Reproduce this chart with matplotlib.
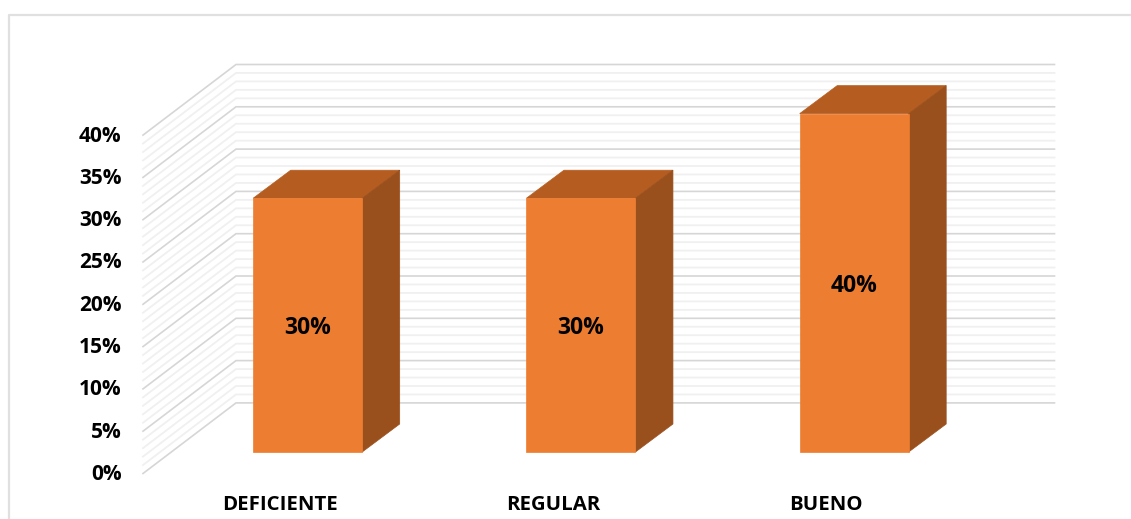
import matplotlib
matplotlib.use("Agg")
import matplotlib.pyplot as plt
from matplotlib.patches import Polygon
from matplotlib.lines import Line2D

categories = ["DEFICIENTE", "REGULAR", "BUENO"]
values = [30, 30, 40]
major_ticks = [0, 5, 10, 15, 20, 25, 30, 35, 40]
minor_ticks = [v for v in range(0, 41) if v % 5 != 0]
tick_labels = ["0%", "5%", "10%", "15%", "20%", "25%", "30%", "35%", "40%"]

W, H = 1131, 519
PX_X = 273.25   # px per category
PX_Y = 8.46     # px per percent
X0, Y0 = 307.7, 473.5  # pixel of category 0 / 0 %

plt.rcParams['font.family'] = ['Open Sans', 'DejaVu Sans']
fig = plt.figure(figsize=(W / 100, H / 100), dpi=100, facecolor='white')
ax = fig.add_axes([0, 0, 1, 1])
ax.set_xlim(-X0 / PX_X, (W - X0) / PX_X)
ax.set_ylim(-(H - Y0) / PX_Y, Y0 / PX_Y)
ax.axis('off')

sx = lambda p: p / PX_X
sy = lambda p: p / PX_Y
wall_left = sx(143 - X0)
wall_back = sx(236 - X0)
wall_right = sx(1054.5 - X0)
wall_rise = sy(70.6)

# frame
fig.add_artist(Line2D([9.2 / W, 9.2 / W, 1], [0, 1 - 14.5 / H, 1 - 14.5 / H], color='#E0E0E0', lw=1.6))

# grid
for v in minor_ticks:
    ax.plot([wall_left, wall_back, wall_right], [v, v + wall_rise, v + wall_rise],
            color='#F0F0F0', lw=1.3, zorder=1, solid_joinstyle='miter')
for v in major_ticks:
    ax.plot([wall_left, wall_back, wall_right], [v, v + wall_rise, v + wall_rise],
            color='#D6D6D6', lw=1.2, zorder=2, solid_joinstyle='miter')

# bars
half = sx(54.5)
dx, dy = sx(37.5), sy(28)
base = sy(21.5)
for i, (c, v) in enumerate(zip(categories, values)):
    l, r = i - half, i + half
    b, t = base, base + v
    ax.add_patch(Polygon([(l, t), (r, t), (r + dx, t + dy), (l + dx, t + dy)], fc='#B55D20', ec='#B55D20', lw=0.5, zorder=3))
    ax.add_patch(Polygon([(r, b), (r + dx, b + dy), (r + dx, t + dy), (r, t)], fc='#9A501D', ec='#9A501D', lw=0.5, zorder=3))
    ax.add_patch(Polygon([(l, b), (r, b), (r, t), (l, t)], fc='#ED7D31', ec='#ED7D31', lw=0.5, zorder=4))
    ax.text(i, base + v / 2 - sy(3), f"{v}%", ha='center', va='center', fontsize=16.5,
            fontweight='bold', color='black', zorder=5)
    ax.text(i - sx(28), -sy(31), c, ha='center', va='center', fontsize=14.7,
            fontweight='bold', color='black')

for v, s in zip(major_ticks, tick_labels):
    ax.text(sx(121.5 - X0), v - sy(1), s, ha='right', va='center', fontsize=15,
            fontweight='bold', color='black')

fig.savefig('out.png', dpi=100, facecolor='white')
